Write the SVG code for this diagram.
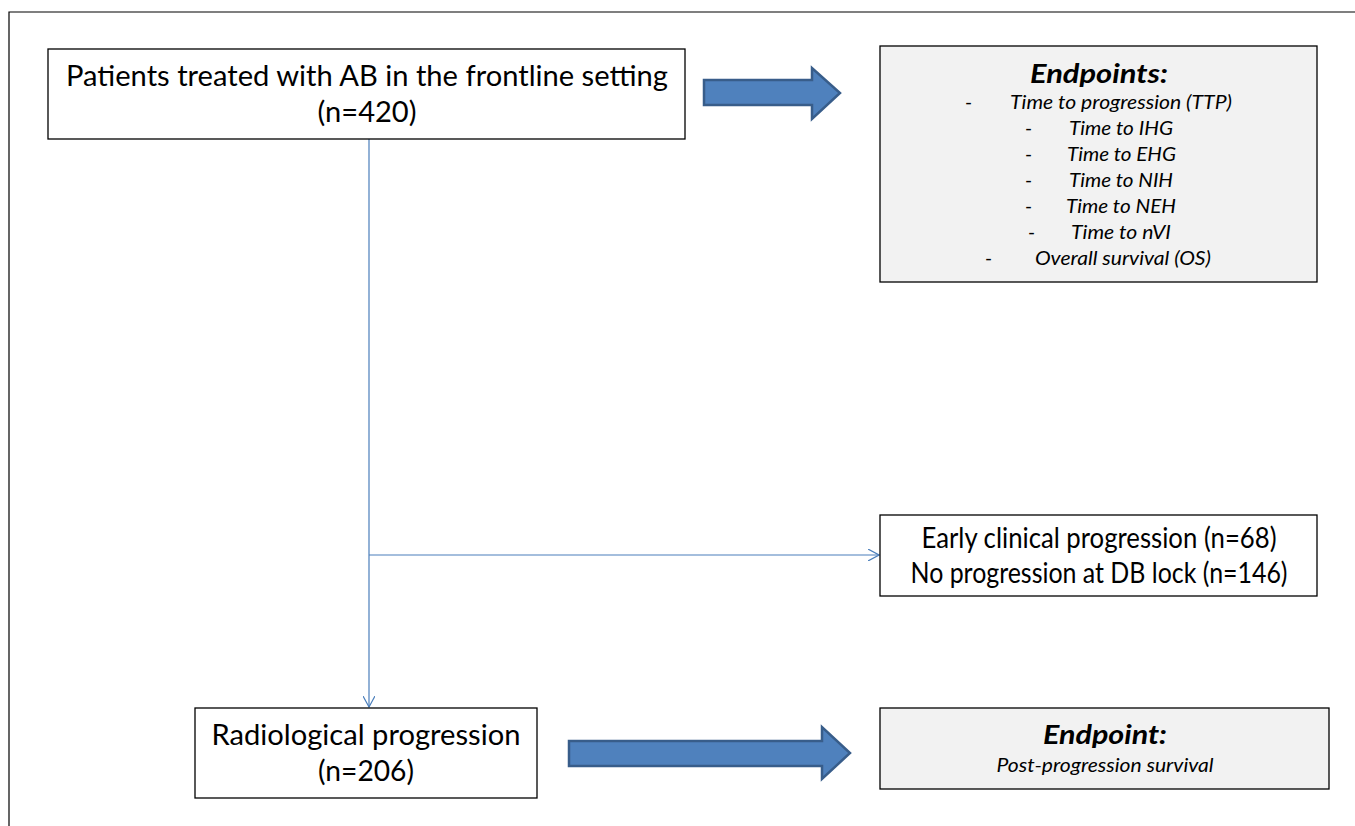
<svg xmlns="http://www.w3.org/2000/svg" width="1355" height="826" viewBox="0 0 1355 826">
<style>
.box{fill:#fff;stroke:#000;stroke-width:1.3}
.gbox{fill:#f2f2f2;stroke:#000;stroke-width:1.3}
.t{font-family:Lato,"Open Sans",sans-serif;font-size:29px;fill:#000;text-anchor:middle}
.h{font-family:Lato,"Open Sans",sans-serif;font-size:27px;font-weight:bold;font-style:italic;fill:#000;text-anchor:middle}
.i{font-family:Lato,"Open Sans",sans-serif;font-size:19px;font-style:italic;fill:#000}
.d{font-family:Lato,"Open Sans",sans-serif;font-size:19px;fill:#000}
.big{fill:#4f81bd;stroke:#385d8a;stroke-width:2.5}
.con{stroke:#4a7ebb;stroke-width:1.2;fill:none}
</style>
<defs>
<marker id="ah" markerWidth="12" markerHeight="12" refX="11" refY="6" orient="auto" markerUnits="userSpaceOnUse">
<path d="M0,0 L11,6 L0,12" fill="none" stroke="#4a7ebb" stroke-width="1.2"/>
</marker>
</defs>
<rect width="1355" height="826" fill="#fff"/>
<path d="M9,826 V12 H1355" fill="none" stroke="#000" stroke-width="1.2"/>
<g id="connectors">
<line class="con" x1="369" y1="139" x2="369" y2="707" marker-end="url(#ah)"/>
<line class="con" x1="369" y1="555" x2="879" y2="555" marker-end="url(#ah)"/>
<path class="big" d="M704,80 H812 V68 L840,93 L812,119 V105 H704 Z"/>
<path class="big" d="M569,741 H822 V727 L850,753 L822,779 V766 H569 Z"/>
</g>
<g id="patients">
<rect class="box" x="48" y="49" width="637" height="90"/>
<text class="t" x="367" y="86" textLength="602" lengthAdjust="spacingAndGlyphs">Patients treated with AB in the frontline setting</text>
<text class="t" x="367" y="122" textLength="99" lengthAdjust="spacingAndGlyphs">(n=420)</text>
</g>
<g id="endpoints">
<rect class="gbox" x="880" y="46" width="437" height="236"/>
<text class="h" x="1099" y="83" textLength="138" lengthAdjust="spacingAndGlyphs">Endpoints:</text>
<text class="d" x="965" y="109">-</text><text class="i" x="1010" y="109" textLength="222" lengthAdjust="spacingAndGlyphs">Time to progression (TTP)</text>
<text class="d" x="1025" y="135">-</text><text class="i" x="1069" y="135" textLength="104" lengthAdjust="spacingAndGlyphs">Time to IHG</text>
<text class="d" x="1025" y="161">-</text><text class="i" x="1067" y="161" textLength="109" lengthAdjust="spacingAndGlyphs">Time to EHG</text>
<text class="d" x="1025" y="187">-</text><text class="i" x="1069" y="187" textLength="104" lengthAdjust="spacingAndGlyphs">Time to NIH</text>
<text class="d" x="1025" y="213">-</text><text class="i" x="1066" y="213" textLength="110" lengthAdjust="spacingAndGlyphs">Time to NEH</text>
<text class="d" x="1028" y="239">-</text><text class="i" x="1071" y="239" textLength="100" lengthAdjust="spacingAndGlyphs">Time to nVI</text>
<text class="d" x="985" y="265">-</text><text class="i" x="1035" y="265" textLength="176" lengthAdjust="spacingAndGlyphs">Overall survival (OS)</text>
</g>
<g id="early">
<rect class="box" x="880" y="515" width="437" height="81"/>
<text class="t" x="1099" y="548" textLength="355" lengthAdjust="spacingAndGlyphs">Early clinical progression (n=68)</text>
<text class="t" x="1099" y="583" textLength="377" lengthAdjust="spacingAndGlyphs">No progression at DB lock (n=146)</text>
</g>
<g id="radio">
<rect class="box" x="195" y="708" width="342" height="90"/>
<text class="t" x="366" y="745" textLength="309" lengthAdjust="spacingAndGlyphs">Radiological progression</text>
<text class="t" x="366" y="781" textLength="96" lengthAdjust="spacingAndGlyphs">(n=206)</text>
</g>
<g id="endpoint">
<rect class="gbox" x="880" y="708" width="449" height="81"/>
<text class="h" x="1105" y="744" textLength="124" lengthAdjust="spacingAndGlyphs">Endpoint:</text>
<text class="i" x="1105" y="772" text-anchor="middle" textLength="217" lengthAdjust="spacingAndGlyphs">Post-progression survival</text>
</g>
</svg>
